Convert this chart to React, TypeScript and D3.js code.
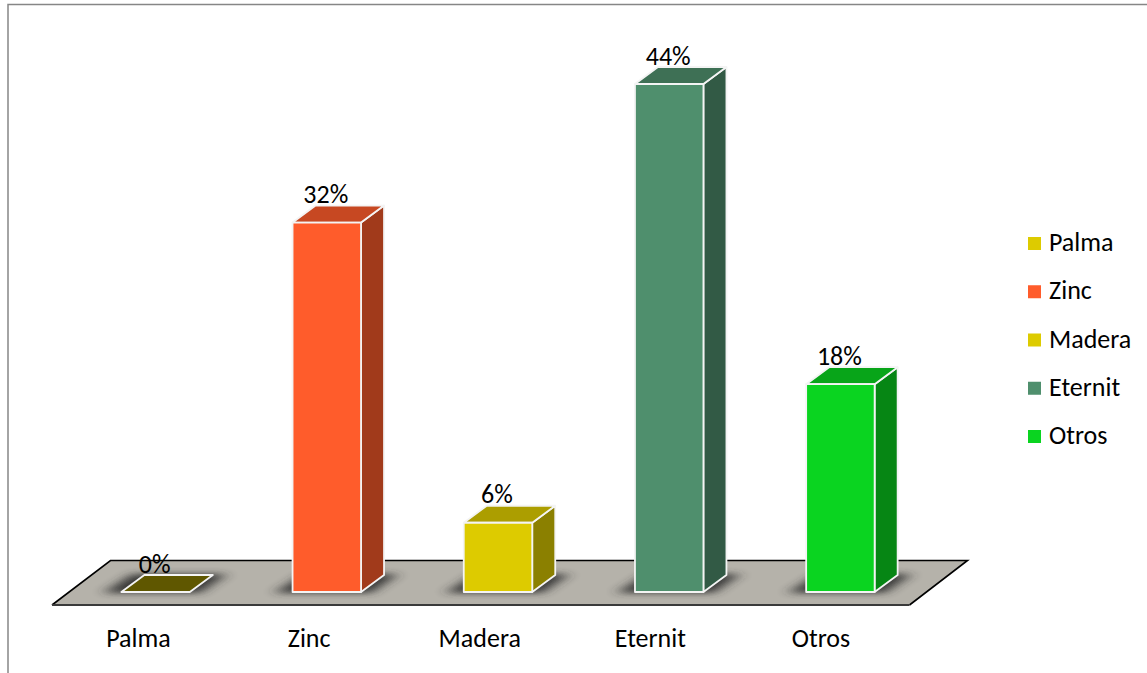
import React from "react";
import * as d3 from "d3";

const categories = ["Palma", "Zinc", "Madera", "Eternit", "Otros"];
const values = [0, 32, 6, 44, 18];
const frontColors = ["#DDCB00", "#FF5C2B", "#DDCB00", "#4F8F6D", "#0AD420"];
const FONT = "Carlito, Calibri, Lato, sans-serif";

const W = 1147, H = 673;
const baseY = 592;
const depthX = 23, depthY = -17;
const x = d3.scaleBand<string>().domain(categories).range([70, 926]).paddingInner(0.6).paddingOuter(0.3);
const axisX = d3.scalePoint<string>().domain(categories).range([138.5, 821]);
const y = d3.scaleLinear().domain([0, 44]).range([baseY, 84]);
const legendY = d3.scalePoint<string>().domain(categories).range([243.5, 436.5]);

const shade = (c: string, k: number) => {
  const r = d3.rgb(c);
  return d3.rgb(r.r * k, r.g * k, r.b * k).formatHex();
};
const poly = (pts: number[][]) => d3.line()(pts as [number, number][]) + "Z";

export default function App() {
  const floor = poly([[52, 605], [110.5, 560.5], [967.5, 560.5], [909.5, 605]]);
  return (
    <svg width={W} height={H} style={{ position: "absolute", left: 0, top: 0 }} fontFamily={FONT}>
      <defs>
        <filter id="blur" x="-40%" y="-150%" width="180%" height="400%">
          <feGaussianBlur stdDeviation="7 3.2" />
        </filter>
        <clipPath id="floorClip"><path d={floor} /></clipPath>
      </defs>
      <rect width={W} height={H} fill="#fff" />
      <path d="M8 673V4.5H1147" fill="none" stroke="#868686" strokeWidth={1.5} />
      <path d={floor} fill="#B5B2AA" />
      <path d="M52 605L110.5 560.5H967.5L909.5 605" fill="none" stroke="#000" strokeWidth={1.6} />
      <path d="M52 605H909.5" stroke="#3a3a3a" strokeWidth={2} />
      <g clipPath="url(#floorClip)">
        {categories.map((c) => {
          const l = x(c)!, b = x.bandwidth();
          return (
            <path key={c} filter="url(#blur)" fill="#333" opacity={0.95}
              d={poly([[l - 18, baseY + 1], [l + depthX - 12, baseY + depthY - 1], [l + b + depthX + 14, baseY + depthY - 1], [l + b + 10, baseY + 1]])} />
          );
        })}
      </g>
      {categories.map((c, i) => {
        const l = x(c)!, r = l + x.bandwidth();
        const t = y(values[i]);
        const col = frontColors[i];
        const top = poly([[l, t], [l + depthX, t + depthY], [r + depthX, t + depthY], [r, t]]);
        const flat = values[i] === 0;
        return (
          <g key={c} stroke="#f4f4f4" strokeWidth={1.8} strokeLinejoin="round">
            {!flat && <path d={poly([[r, t], [r + depthX, t + depthY], [r + depthX, baseY + depthY], [r, baseY]])} fill={shade(col, 0.63)} />}
            <path d={top} fill={shade(col, flat ? 0.43 : 0.78)} />
            {!flat && <rect x={l} y={t} width={r - l} height={baseY - t} fill={col} />}
          </g>
        );
      })}
      <g fontSize={26} fill="#000" textAnchor="middle">
        {categories.map((c, i) => (
          <text key={c} x={x(c)! + x.bandwidth() / 2 - 1} y={y(values[i]) - 19.5}>{values[i]}%</text>
        ))}
        {categories.map((c) => (
          <text key={c} x={axisX(c)!} y={647}>{c}</text>
        ))}
      </g>
      <g fontSize={26} fill="#000">
        {categories.map((c, i) => (
          <g key={c}>
            <rect x={1028} y={legendY(c)! - 6.5} width={13} height={13} fill={frontColors[i]} />
            <text x={1049} y={legendY(c)! + 7.5}>{c}</text>
          </g>
        ))}
      </g>
    </svg>
  );
}
